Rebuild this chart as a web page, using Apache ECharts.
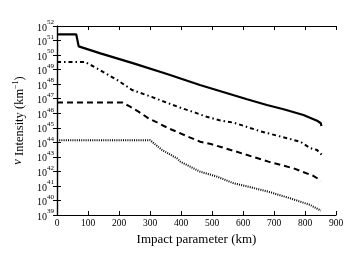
<!DOCTYPE html>
<html><head><meta charset="utf-8">
<script src="https://cdn.jsdelivr.net/npm/echarts@6/dist/echarts.min.js"></script>
<style>html,body{margin:0;padding:0;background:#fff}#c{width:350px;height:263px}</style>
</head><body><div id="c"></div>
<script>
// x: impact parameter (km); y: log10 of intensity (km^-1)
const xTicks = [0,100,200,300,400,500,600,700,800,900];
const yExpTicks = [39,40,41,42,43,44,45,46,47,48,49,50,51,52];

const solidX = [0, 62, 70, 75, 140, 247, 355, 461, 613, 677, 731, 795, 839, 851, 853];
const solidY = [51.43, 51.43, 50.6, 50.5, 50.12, 49.43, 48.7, 47.94, 46.96, 46.57, 46.27, 45.88, 45.49, 45.31, 45.12];

const dashDotX = [0, 90, 129, 194, 242, 317, 360, 403, 446, 483, 521, 570, 656, 742, 785, 817, 839, 849, 855];
const dashDotY = [49.53, 49.53, 49.09, 48.29, 47.6, 47.03, 46.68, 46.34, 46.04, 45.76, 45.53, 45.35, 44.76, 44.28, 44.04, 43.6, 43.47, 43.24, 43.13];

const dashedX = [0, 210, 236, 263, 295, 328, 360, 398, 430, 462, 500, 580, 682, 763, 828, 852];
const dashedY = [46.74, 46.74, 46.45, 46.11, 45.65, 45.31, 44.96, 44.62, 44.32, 44.04, 43.86, 43.35, 42.67, 42.21, 41.68, 41.36];

const dottedX = [0, 300, 339, 387, 398, 462, 516, 570, 624, 682, 752, 817, 851];
const dottedY = [44.15, 44.15, 43.47, 42.9, 42.67, 41.98, 41.64, 41.18, 40.91, 40.6, 40.15, 39.69, 39.3];

function pairs(xs, ys){ return xs.map((x,i)=>[x, ys[i]]); }

const FONT = '"Liberation Serif","DejaVu Serif",serif';
const chart = echarts.init(document.getElementById('c'), null, {renderer:'canvas'});

const tickStyle = {show:true, inside:true, length:4, lineStyle:{color:'#000', width:1}};
const axisLine = {show:true, lineStyle:{color:'#000', width:1.2}};

function mkSeries(xs, ys, type, width){
  return {type:'line', data:pairs(xs,ys), showSymbol:false, symbol:'none', smooth:false,
    lineStyle:{color:'#000', width:width, type:type}, xAxisIndex:0, yAxisIndex:0, animation:false};
}

chart.setOption({
  animation:false,
  backgroundColor:'#fff',
  grid:{left:57, right:14, top:26, bottom:48, containLabel:false},
  xAxis:[
    {type:'value', min:0, max:900, interval:100, position:'bottom',
     axisLine:axisLine, axisTick:tickStyle, splitLine:{show:false},
     axisLabel:{color:'#000', fontFamily:FONT, fontSize:9.5, margin:3},
     name:'Impact parameter (km)', nameLocation:'middle', nameGap:16,
     nameTextStyle:{color:'#000', fontFamily:FONT, fontSize:13}},
    {type:'value', min:0, max:900, interval:100, position:'top',
     axisLine:axisLine, axisTick:tickStyle, splitLine:{show:false}, axisLabel:{show:false}}
  ],
  yAxis:[
    {type:'value', min:39, max:52, interval:1, position:'left',
     axisLine:axisLine, axisTick:tickStyle, splitLine:{show:false},
     axisLabel:{margin:3, fontSize:10, fontFamily:FONT, color:'#000', formatter:v=>'{b|10}{s|'+v+'}',
       rich:{b:{fontFamily:FONT, fontSize:10, color:'#000', padding:[4,0,0,0]}, s:{fontFamily:FONT, fontSize:7, color:'#000', verticalAlign:'top', padding:[0,0,3,0]}}},
     name:'{i|ν} {n|Intensity (km}{s|−1}{n|)}', nameLocation:'middle', nameGap:24, nameRotate:90,
     nameTextStyle:{rich:{i:{fontFamily:FONT, fontStyle:'italic', fontSize:12.5, color:'#000'},
       n:{fontFamily:FONT, fontSize:12.5, color:'#000', padding:[3,0,0,0]}, s:{fontFamily:FONT, fontSize:8, color:'#000', padding:[0,0,5,0]}}}},
    {type:'value', min:39, max:52, interval:1, position:'right',
     axisLine:axisLine, axisTick:tickStyle, splitLine:{show:false}, axisLabel:{show:false}}
  ],
  series:[
    mkSeries(solidX, solidY, 'solid', 2.2),
    mkSeries(dashDotX, dashDotY, [4,3,1.5,3], 2),
    mkSeries(dashedX, dashedY, [6,4], 2),
    mkSeries(dottedX, dottedY, [1,1.2], 2)
  ]
});
</script></body></html>
